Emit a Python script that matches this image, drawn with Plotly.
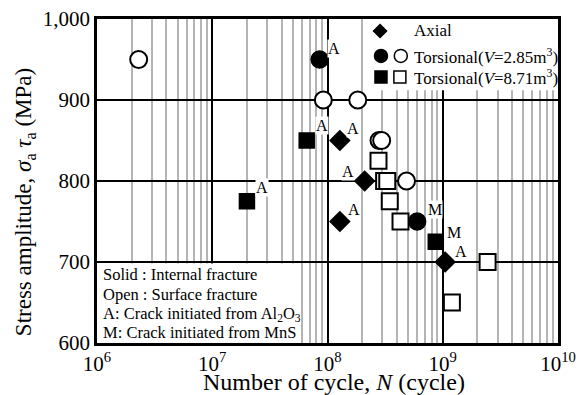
import plotly.graph_objects as go
import math

# ---- data ----
x_tick_vals = [1e6, 1e7, 1e8, 1e9, 1e10]
x_tick_text = ["10<sup>6</sup>", "10<sup>7</sup>", "10<sup>8</sup>", "10<sup>9</sup>", "10<sup>10</sup>"]
y_tick_vals = [600, 700, 800, 900, 1000]
y_tick_text = ["600", "700", "800", "900", "1,000"]

axial_N = [1.28e8, 2.1e8, 1.28e8, 1.05e9]
axial_S = [850, 800, 750, 700]

tors1_solid_N = [8.55e7, 6.0e8]
tors1_solid_S = [950, 750]
tors1_open_N = [2.3e6, 9.2e7, 1.83e8, 2.8e8, 2.95e8, 4.85e8]
tors1_open_S = [950, 900, 900, 850, 850, 800]

tors2_solid_N = [2.0e7, 6.6e7, 8.7e8]
tors2_solid_S = [775, 850, 725]
tors2_open_N = [2.77e8, 3.1e8, 3.3e8, 3.47e8, 4.3e8, 2.45e9, 1.2e9]
tors2_open_S = [825, 800, 800, 775, 750, 700, 650]

label_N = [8.55e7, 6.6e7, 1.28e8, 2.0e7, 2.1e8, 1.28e8, 6.0e8, 8.7e8, 1.05e9]
label_S = [950, 850, 850, 775, 800, 750, 750, 725, 700]
label_T = ["A", "A", "A", "A", "A", "A", "M", "M", "A"]
label_dx = [14, 15, 13, 15, -17, 14, 18, 18, 16]
label_dy = [11, 15, 12, 14, 10, 12, 12, 9, 11]

x_title = "Number of cycle, <i>N</i> (cycle)"
y_title = "Stress amplitude, <i>σ</i><sub>a</sub> <i>τ</i><sub>a</sub> (MPa)"
note_lines = ["Solid : Internal fracture",
              "Open : Surface fracture",
              "A: Crack initiated from Al<sub>2</sub>O<sub>3</sub>",
              "M: Crack initiated from MnS"]
legend_texts = ["Axial", "Torsional(<i>V</i>=2.85m<sup>3</sup>)", "Torsional(<i>V</i>=8.71m<sup>3</sup>)"]

FONT = "Liberation Serif"

fig = go.Figure()

solid = dict(color="black", line=dict(color="black", width=1.5))
opn = dict(color="white", line=dict(color="black", width=2))

fig.add_trace(go.Scatter(x=tors1_open_N, y=tors1_open_S, mode="markers",
                         marker=dict(symbol="circle", size=17, **opn), showlegend=False))
fig.add_trace(go.Scatter(x=tors2_open_N, y=tors2_open_S, mode="markers",
                         marker=dict(symbol="square", size=16, **opn), showlegend=False))
fig.add_trace(go.Scatter(x=tors1_solid_N, y=tors1_solid_S, mode="markers",
                         marker=dict(symbol="circle", size=17, **solid), showlegend=False))
fig.add_trace(go.Scatter(x=tors2_solid_N, y=tors2_solid_S, mode="markers",
                         marker=dict(symbol="square", size=15, **solid), showlegend=False))
fig.add_trace(go.Scatter(x=axial_N, y=axial_S, mode="markers",
                         marker=dict(symbol="diamond", size=15, **solid), showlegend=False))

# legend glyphs on an overlay unit axis
leg_y = [0.963, 0.886, 0.821]
fig.add_trace(go.Scatter(x=[0.614], y=[leg_y[0]], xaxis="x2", yaxis="y2", mode="markers",
                         marker=dict(symbol="diamond", size=10, **solid), showlegend=False, hoverinfo="skip"))
fig.add_trace(go.Scatter(x=[0.616], y=[leg_y[1]], xaxis="x2", yaxis="y2", mode="markers",
                         marker=dict(symbol="circle", size=13, **solid), showlegend=False, hoverinfo="skip"))
fig.add_trace(go.Scatter(x=[0.659], y=[leg_y[1]], xaxis="x2", yaxis="y2", mode="markers",
                         marker=dict(symbol="circle", size=13, color="white", line=dict(color="black", width=1.5)),
                         showlegend=False, hoverinfo="skip"))
fig.add_trace(go.Scatter(x=[0.616], y=[leg_y[2]], xaxis="x2", yaxis="y2", mode="markers",
                         marker=dict(symbol="square", size=12, **solid), showlegend=False, hoverinfo="skip"))
fig.add_trace(go.Scatter(x=[0.657], y=[leg_y[2]], xaxis="x2", yaxis="y2", mode="markers",
                         marker=dict(symbol="square", size=12, color="white", line=dict(color="black", width=1.5)),
                         showlegend=False, hoverinfo="skip"))

annotations = []
for n, s, t, dx, dy in zip(label_N, label_S, label_T, label_dx, label_dy):
    annotations.append(dict(x=math.log10(n), y=s, xref="x", yref="y", text=t, showarrow=False,
                            xshift=dx, yshift=dy, bgcolor="white", borderpad=0,
                            font=dict(family=FONT, size=16, color="black")))

note_y = [0.210, 0.151, 0.090, 0.031]
for line, yy in zip(note_lines, note_y):
    annotations.append(dict(x=0.008, y=yy, xref="paper", yref="paper", text=line,
                            showarrow=False, xanchor="left", yanchor="middle",
                            font=dict(family=FONT, size=16.5, color="black")))

for t, yy in zip(legend_texts, leg_y):
    annotations.append(dict(x=0.683, y=yy, xref="paper", yref="paper", text=t,
                            showarrow=False, xanchor="left", yanchor="middle",
                            font=dict(family=FONT, size=17, color="black")))

# axis titles
annotations.append(dict(x=0.514, y=-0.121, xref="paper", yref="paper", text=x_title, showarrow=False,
                        xanchor="center", yanchor="middle", font=dict(family=FONT, size=24, color="black")))
annotations.append(dict(x=-0.156, y=0.435, xref="paper", yref="paper", text=y_title, showarrow=False,
                        textangle=-90, xanchor="center", yanchor="middle",
                        font=dict(family=FONT, size=23, color="black")))

shapes = [
    dict(type="rect", xref="x", yref="y", x0=1e6, x1=5.7e7, y0=600, y1=698,
         fillcolor="white", line=dict(width=0), layer="between"),
    dict(type="rect", xref="x", yref="y", x0=2.3e8, x1=1e10, y0=912, y1=1000,
         fillcolor="white", line=dict(width=0), layer="between"),
]

minor_vals = [k * 10 ** e for e in range(6, 10) for k in range(2, 10)]

fig.update_layout(
    width=587, height=395,
    margin=dict(l=97, r=29, t=19, b=52),
    paper_bgcolor="white", plot_bgcolor="white",
    font=dict(family=FONT, size=18, color="black"),
    xaxis=dict(type="log", range=[6, 10], tickmode="array", tickvals=x_tick_vals, ticktext=x_tick_text,
               showgrid=True, gridcolor="black", gridwidth=2, zeroline=False,
               showline=True, mirror=True, linecolor="black", linewidth=2.5, ticks="",
               tickfont=dict(family=FONT, size=21), automargin=False,
               minor=dict(tickmode="array", tickvals=minor_vals, showgrid=True,
                          gridcolor="#b4b4b4", gridwidth=2, ticks="")),
    yaxis=dict(range=[600, 1000], tickmode="array", tickvals=y_tick_vals, ticktext=y_tick_text,
               showgrid=True, gridcolor="black", gridwidth=2, zeroline=False,
               showline=True, mirror=True, linecolor="black", linewidth=2.5, ticks="",
               tickfont=dict(family=FONT, size=21), automargin=False),
    xaxis2=dict(overlaying="x", range=[0, 1], visible=False),
    yaxis2=dict(overlaying="y", range=[0, 1], visible=False),
    annotations=annotations,
    shapes=shapes,
)

fig.write_html("out.html", config={"displayModeBar": False},
               post_script="document.body.style.margin='0';")
